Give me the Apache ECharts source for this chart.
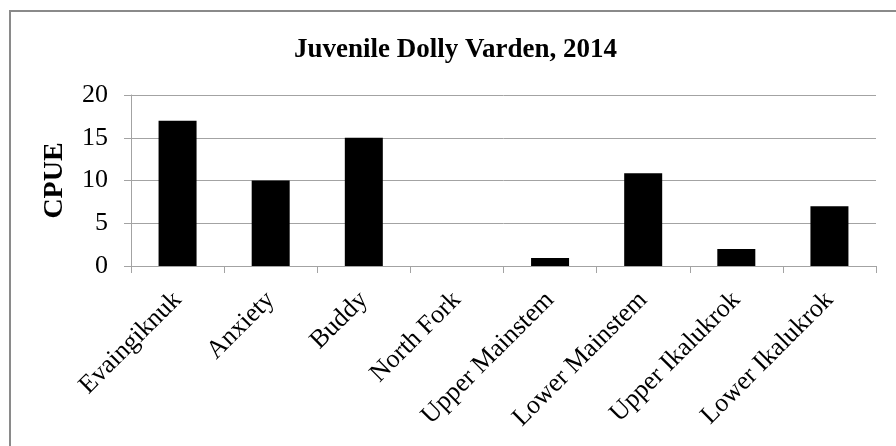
<!DOCTYPE html>
<html>
<head>
<meta charset="utf-8">
<script src="https://cdn.jsdelivr.net/npm/echarts@6/dist/echarts.min.js"></script>
<style>
  html, body { margin: 0; padding: 0; background: #ffffff; }
  #chart { width: 896px; height: 446px; }
</style>
</head>
<body>
<div id="chart"></div>
<script>
// Juvenile Dolly Varden catch per unit effort by sampling site, 2014
const titleText = 'Juvenile Dolly Varden, 2014';
const yAxisName = 'CPUE';
const sites = [
  'Evaingiknuk', 'Anxiety', 'Buddy', 'North Fork',
  'Upper Mainstem', 'Lower Mainstem', 'Upper Ikalukrok', 'Lower Ikalukrok'
];
const cpue = [17, 10, 15, 0, 0.95, 10.85, 2, 7];
const yTicks = { min: 0, max: 20, interval: 5 };

const serif = '"Liberation Serif", "DejaVu Serif", serif';
const gridGray = '#a3a3a3';

const chart = echarts.init(document.getElementById('chart'), null, { renderer: 'canvas' });

chart.setOption({
  backgroundColor: '#ffffff',
  animation: false,
  title: {
    text: titleText,
    left: 289,
    top: 32,
    textStyle: { fontFamily: serif, fontWeight: 'bold', fontSize: 27, color: '#000000' }
  },
  graphic: [{
    // frame around the chart (top and left edges)
    type: 'rect',
    shape: { x: 10, y: 11, width: 900, height: 450 },
    style: { fill: 'none', stroke: '#8a8a8a', lineWidth: 2 },
    silent: true
  }],
  grid: { left: 131, right: 20, top: 95, bottom: 180 },
  xAxis: {
    type: 'category',
    data: sites,
    axisLine: { lineStyle: { color: gridGray, width: 1 } },
    axisTick: { show: true, length: 7, lineStyle: { color: gridGray } },
    axisLabel: {
      rotate: 45,
      margin: 30,
      interval: 0,
      fontFamily: serif,
      fontSize: 26,
      color: '#000000'
    }
  },
  yAxis: {
    type: 'value',
    min: yTicks.min,
    max: yTicks.max,
    interval: yTicks.interval,
    name: yAxisName,
    nameLocation: 'middle',
    nameGap: 62,
    nameTextStyle: { fontFamily: serif, fontWeight: 'bold', fontSize: 28, color: '#000000' },
    axisLine: { show: true, lineStyle: { color: gridGray, width: 1 } },
    axisTick: { show: true, length: 7, lineStyle: { color: gridGray } },
    axisLabel: { margin: 23, fontFamily: serif, fontSize: 26, color: '#000000' },
    splitLine: { show: true, lineStyle: { color: gridGray, width: 1 } }
  },
  series: [{
    type: 'bar',
    data: cpue,
    barWidth: 38,
    itemStyle: { color: '#000000', borderColor: '#000000', borderWidth: 0 }
  }]
});
</script>
</body>
</html>
